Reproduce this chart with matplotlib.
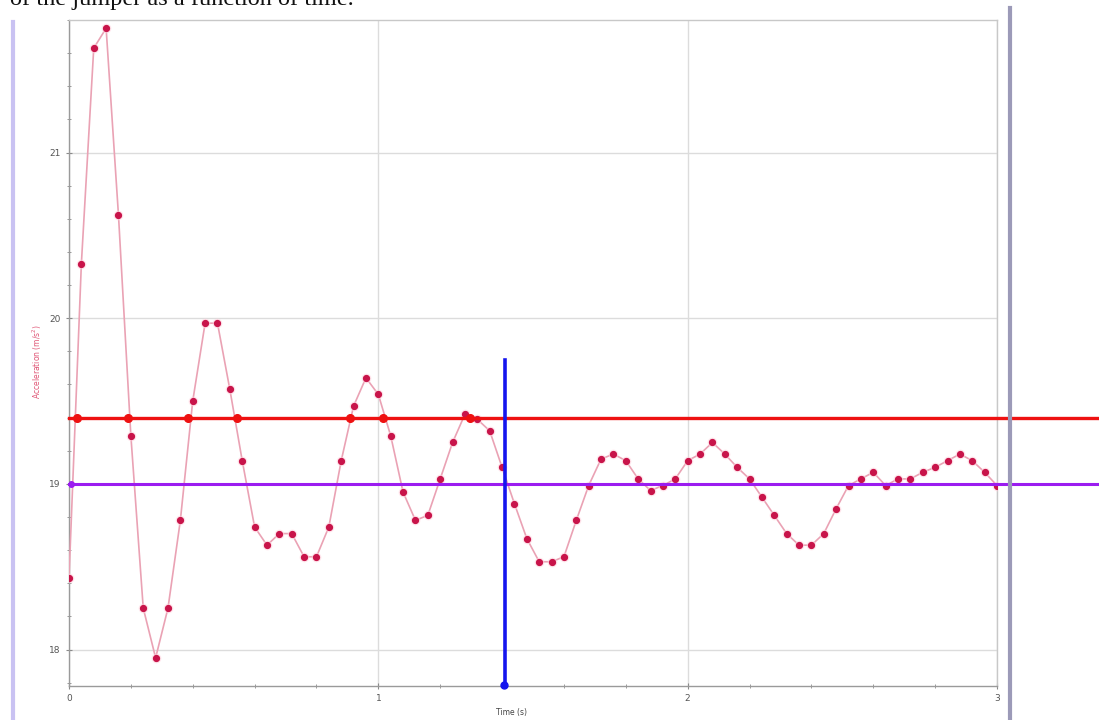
import numpy as np
import matplotlib
matplotlib.use("Agg")
import matplotlib.pyplot as plt
from matplotlib.ticker import MultipleLocator
from matplotlib.lines import Line2D

# sampled acceleration, one point every 0.04 s
dt = 0.04
accel = [18.43, 20.33, 21.63, 21.75, 20.62, 19.29, 18.25, 17.95, 18.25, 18.78,
         19.50, 19.97, 19.97, 19.57, 19.14, 18.74, 18.63, 18.70, 18.70, 18.56,
         18.56, 18.74, 19.14, 19.47, 19.64, 19.54, 19.29, 18.95, 18.78, 18.81,
         19.03, 19.25, 19.42, 19.39, 19.32, 19.10, 18.88, 18.67, 18.53, 18.53,
         18.56, 18.78, 18.99, 19.15, 19.18, 19.14, 19.03, 18.96, 18.99, 19.03,
         19.14, 19.18, 19.25, 19.18, 19.10, 19.03, 18.92, 18.81, 18.70, 18.63,
         18.63, 18.70, 18.85, 18.99, 19.03, 19.07, 18.99, 19.03, 19.03, 19.07,
         19.10, 19.14, 19.18, 19.14, 19.07, 18.99]
time = [round(i * dt, 2) for i in range(len(accel))]

# hand-drawn annotations
red_level = 19.4
purple_level = 19.0
red_marks = [0.025, 0.192, 0.385, 0.544, 0.909, 1.014, 1.296]
cursor_t = 1.41
cursor_top = 19.75

fig = plt.figure(figsize=(10.99, 7.2), dpi=100)
ax = fig.add_axes([69/1099, 1 - 686/720, (997-69)/1099, (686-20)/720])

ax.set_xlim(0, 3)
ax.set_ylim(17.78, 21.8)

# grid + frame
ax.grid(True, which='major', color='#dcdcdc', linewidth=1.0)
for s in ax.spines.values():
    s.set_color('#c8c8c8')
    s.set_linewidth(1.0)
ax.spines['left'].set_color('#9a9a9a')
ax.spines['bottom'].set_color('#9a9a9a')
ax.xaxis.set_major_locator(MultipleLocator(1))
ax.xaxis.set_minor_locator(MultipleLocator(0.2))
ax.yaxis.set_major_locator(MultipleLocator(1))
ax.yaxis.set_minor_locator(MultipleLocator(0.2))
ax.tick_params(which='both', direction='inout', colors='#8a8a8a', labelcolor='#555555',
               labelsize=6.5)
ax.tick_params(which='major', length=5)
ax.tick_params(which='minor', length=3)
ax.set_xticks([0, 1, 2, 3])
ax.set_xticklabels(['0', '1', '2', '3'])
ax.set_yticks([18, 19, 20, 21])

# data series
ax.plot(time, accel, color='#eaa2b4', linewidth=1.2, zorder=3)
ax.plot(time, accel, linestyle='none', marker='o', markersize=7,
        markerfacecolor='#ffd6e0', markeredgecolor='none', alpha=0.6, zorder=3)
ax.plot(time, accel, linestyle='none', marker='o', markersize=4.2,
        markerfacecolor='#c8144a', markeredgecolor='#c8144a', zorder=4)

# annotation lines, reaching past the axes to the page edge
ax.plot([0, 3.34], [red_level, red_level], color='#ee1111', linewidth=2.4,
        clip_on=False, zorder=5)
ax.plot([0, 3.34], [purple_level, purple_level], color='#9b1cf0', linewidth=2.2,
        clip_on=False, zorder=5)
ax.plot([0.005], [purple_level], marker='o', markersize=4, color='#9b1cf0', zorder=6)
ax.plot(red_marks, [red_level] * len(red_marks), linestyle='none', marker='o',
        markersize=5.5, color='#ee1111', zorder=6)
ax.plot([cursor_t, cursor_t], [17.78, cursor_top], color='#1515ee', linewidth=2.6,
        clip_on=False, zorder=6)
ax.plot([cursor_t - 0.004], [17.785], marker='o', markersize=5, color='#1515ee',
        clip_on=False, zorder=7)

# axis titles
fig.text(37/1099, 1 - 362/720, 'Acceleration (m/s$^2$)', rotation=90, ha='center',
         va='center', fontsize=5.5, color='#e05575')
fig.text(512/1099, 1 - 712/720, 'Time (s)', ha='center', va='center',
         fontsize=5.5, color='#444444')

# page decorations from the scanned document
fig.add_artist(Line2D([13/1099, 13/1099], [0, 1 - 22/720], color='#c9c2f2', linewidth=3))
fig.add_artist(Line2D([1010/1099, 1010/1099], [0, 1 - 8/720], color='#9c9ab8', linewidth=3))
fig.text(10/1099, 1 - 5/720, 'of the jumper as a function of time.', ha='left',
         va='baseline', fontsize=17.5, family='Liberation Serif', color='#111111')

fig.savefig('out.png', dpi=100)
